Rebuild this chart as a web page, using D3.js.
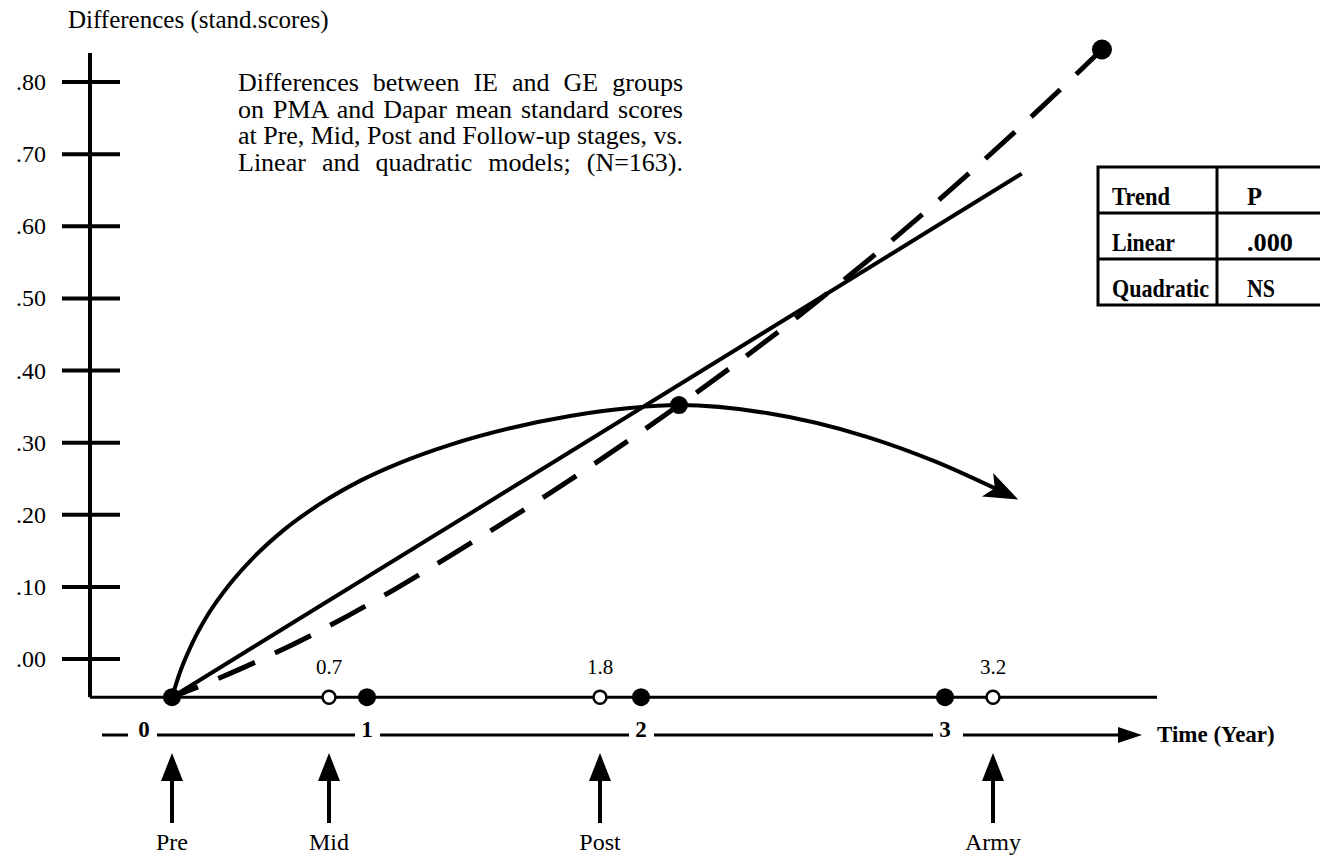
<!DOCTYPE html>
<html><head><meta charset="utf-8">
<script src="https://cdn.jsdelivr.net/npm/d3@7"></script>
<style>
html,body{margin:0;padding:0;background:#fff;}
svg{display:block;}
text{font-family:"Liberation Serif","DejaVu Serif",serif;fill:#000;}
</style></head><body>
<svg id="c" width="1320" height="857"></svg>
<script>
// ---------------- data ----------------
const yTickValues = [0, 0.1, 0.2, 0.3, 0.4, 0.5, 0.6, 0.7, 0.8];
const yTickLabels = [".00", ".10", ".20", ".30", ".40", ".50", ".60", ".70", ".80"];
const yAxisTitle = "Differences (stand.scores)";
const titleLines = [
  "Differences between IE and GE groups",
  "on PMA and Dapar mean standard scores",
  "at Pre, Mid, Post and Follow-up stages, vs.",
  "Linear and quadratic models; (N=163)."
];
const timeKnots = [0, 0.7, 1, 1.8, 2, 3, 3.2];
const yearTicks = [0, 1, 2, 3];
const yearTickLabels = ["0", "1", "2", "3"];
const xAxisTitle = "Time (Year)";
const measuredTimes = [0.7, 1.8, 3.2];
const measuredLabels = ["0.7", "1.8", "3.2"];
const stageNames = ["Pre", "Mid", "Post", "Army"];
const stageTimes = [0, 0.7, 1.8, 3.2];
const baselineValue = -0.053;
// linear model (solid straight line)
const linearT = [0, 3.32];
const linearV = [-0.053, 0.673];
// observed differences (dashed)
const dashedT = [0, 0.303, 0.615, 1.045, 1.285, 1.628, 2.125, 2.523, 2.753, 3.021, 3.354, 3.654];
const dashedV = [-0.053, -0.014, 0.032, 0.085, 0.143, 0.230, 0.352, 0.477, 0.555, 0.650, 0.750, 0.845];
// quadratic model (curved arrow)
const quadT = [0, 0.036, 0.089, 0.161, 0.250, 0.361, 0.495, 0.660, 0.945, 1.113, 1.285, 1.491, 1.697, 1.946, 2.125, 2.414, 2.743, 2.961, 3.275];
const quadV = [-0.053, -0.018, 0.021, 0.062, 0.101, 0.140, 0.178, 0.215, 0.247, 0.272, 0.297, 0.320, 0.337, 0.348, 0.352, 0.341, 0.308, 0.275, 0.226];
// highlighted points
const keyT = [0, 2.125, 3.654];
const keyV = [-0.053, 0.352, 0.845];
// table
const tableHeader = ["Trend", "P"];
const tableTrends = ["Linear", "Quadratic"];
const tableP = [".000", "NS"];

// ---------------- scales ----------------
const svg = d3.select("#c");
const x = d3.scaleLinear().domain(timeKnots).range([172, 329, 367, 600, 641, 945, 993]);
const y = d3.scaleLinear().domain([0, 0.8]).range([659, 82]);
const yBase = y(baselineValue);

const defs = svg.append("defs");
defs.append("marker").attr("id", "arrowCurve").attr("markerUnits", "userSpaceOnUse")
  .attr("markerWidth", 38).attr("markerHeight", 28).attr("refX", 26).attr("refY", 13)
  .attr("orient", "auto")
  .append("path").attr("d", "M0,0 L34,13 L0,26 L8,13 Z").attr("fill", "#000");
defs.append("marker").attr("id", "arrowAxis").attr("markerUnits", "userSpaceOnUse")
  .attr("markerWidth", 26).attr("markerHeight", 18).attr("refX", 18).attr("refY", 8)
  .attr("orient", "auto")
  .append("path").attr("d", "M0,0 L24,8 L0,16 Z").attr("fill", "#000");

// ---------------- y axis ----------------
svg.append("line").attr("x1", 90).attr("x2", 90).attr("y1", 53).attr("y2", yBase)
  .attr("stroke", "#000").attr("stroke-width", 4);
const yt = svg.append("g");
yTickValues.forEach((v, i) => {
  yt.append("line").attr("x1", 62).attr("x2", 120).attr("y1", y(v)).attr("y2", y(v))
    .attr("stroke", "#000").attr("stroke-width", 4);
  yt.append("text").attr("x", 46).attr("y", y(v) + 8).attr("text-anchor", "end")
    .style("font-size", "24px").text(yTickLabels[i]);
});
svg.append("text").attr("x", 68).attr("y", 28).style("font-size", "25px").text(yAxisTitle);

// ---------------- title (justified by word spacing) ----------------
titleLines.forEach((t, i) => {
  const tx = svg.append("text").attr("x", 238).attr("y", 91 + i * 26.5)
    .style("font-size", "26px").text(t);
  const natural = tx.node().getComputedTextLength();
  const spaces = (t.match(/ /g) || []).length;
  tx.style("word-spacing", ((445 - natural) / spaces) + "px");
});

// ---------------- baseline (time markers) ----------------
svg.append("line").attr("x1", 90).attr("x2", 1157).attr("y1", yBase).attr("y2", yBase)
  .attr("stroke", "#000").attr("stroke-width", 3);

// ---------------- curves ----------------
const line = d3.line().x(d => x(d[0])).y(d => y(d[1])).curve(d3.curveMonotoneX);

svg.append("path").datum(linearT.map((t, i) => [t, linearV[i]]))
  .attr("d", d3.line().x(d => x(d[0])).y(d => y(d[1])))
  .attr("fill", "none").attr("stroke", "#000").attr("stroke-width", 4);

svg.append("path").datum(dashedT.map((t, i) => [t, dashedV[i]]))
  .attr("d", line).attr("fill", "none").attr("stroke", "#000").attr("stroke-width", 5)
  .attr("stroke-dasharray", "40 22").attr("stroke-dashoffset", 12);

svg.append("path").datum(quadT.map((t, i) => [t, quadV[i]]))
  .attr("d", line).attr("fill", "none").attr("stroke", "#000").attr("stroke-width", 4)
  .attr("marker-end", "url(#arrowCurve)");

// key points
keyT.forEach((t, i) => {
  svg.append("circle").attr("cx", x(t)).attr("cy", y(keyV[i])).attr("r", i === 2 ? 10 : 9).attr("fill", "#000");
});

// year dots on baseline
yearTicks.forEach(t => {
  if (t === 0) return;
  svg.append("circle").attr("cx", x(t)).attr("cy", yBase).attr("r", 9).attr("fill", "#000");
});
measuredTimes.forEach((t, i) => {
  svg.append("circle").attr("cx", x(t)).attr("cy", yBase).attr("r", 6.5)
    .attr("fill", "#fff").attr("stroke", "#000").attr("stroke-width", 2.5);
  svg.append("text").attr("x", x(t)).attr("y", yBase - 23).attr("text-anchor", "middle")
    .style("font-size", "21px").text(measuredLabels[i]);
});

// ---------------- year axis row ----------------
const labelX = yearTicks.map(t => t === 0 ? x(t) - 28 : x(t));
const rowY = 735;
yearTicks.forEach((t, i) => {
  svg.append("text").attr("x", labelX[i]).attr("y", rowY + 2).attr("text-anchor", "middle")
    .style("font-size", "23px").style("font-weight", "bold").text(yearTickLabels[i]);
});
const segs = [[102, labelX[0] - 16]];
for (let i = 0; i < labelX.length - 1; i++) segs.push([labelX[i] + 13, labelX[i + 1] - 12]);
segs.forEach(s => svg.append("line").attr("x1", s[0]).attr("x2", s[1]).attr("y1", rowY).attr("y2", rowY)
  .attr("stroke", "#000").attr("stroke-width", 3));
svg.append("line").attr("x1", labelX[3] + 18).attr("x2", 1136).attr("y1", rowY).attr("y2", rowY)
  .attr("stroke", "#000").attr("stroke-width", 3).attr("marker-end", "url(#arrowAxis)");
svg.append("text").attr("x", 1157).attr("y", rowY + 7).style("font-size", "23px")
  .style("font-weight", "bold").text(xAxisTitle);

// ---------------- stage arrows ----------------
stageTimes.forEach((t, i) => {
  const cx = x(t);
  svg.append("line").attr("x1", cx).attr("x2", cx).attr("y1", 823).attr("y2", 775)
    .attr("stroke", "#000").attr("stroke-width", 4);
  svg.append("path").attr("d", `M${cx},753 L${cx + 11},781 L${cx - 11},781 Z`).attr("fill", "#000");
  svg.append("text").attr("x", cx).attr("y", 850).attr("text-anchor", "middle")
    .style("font-size", "24px").text(stageNames[i]);
});

// ---------------- table ----------------
const tb = svg.append("g");
const rowsY = [167, 213, 259, 305];
tb.append("rect").attr("x", 1098).attr("y", rowsY[0]).attr("width", 240).attr("height", rowsY[3] - rowsY[0])
  .attr("fill", "none").attr("stroke", "#000").attr("stroke-width", 3);
[rowsY[1], rowsY[2]].forEach(yy => tb.append("line").attr("x1", 1098).attr("x2", 1330)
  .attr("y1", yy).attr("y2", yy).attr("stroke", "#000").attr("stroke-width", 3));
tb.append("line").attr("x1", 1217).attr("x2", 1217).attr("y1", rowsY[0]).attr("y2", rowsY[3])
  .attr("stroke", "#000").attr("stroke-width", 3);
const col1 = [tableHeader[0]].concat(tableTrends);
const col2 = [tableHeader[1]].concat(tableP);
const w1 = [58, 63, 97], w2 = [15, 46, 28];
col1.forEach((t, i) => tb.append("text").attr("x", 1112).attr("y", rowsY[i + 1] - 8)
  .attr("textLength", w1[i]).attr("lengthAdjust", "spacingAndGlyphs")
  .style("font-size", "25px").style("font-weight", "bold").text(t));
col2.forEach((t, i) => tb.append("text").attr("x", 1247).attr("y", rowsY[i + 1] - 8)
  .attr("textLength", w2[i]).attr("lengthAdjust", "spacingAndGlyphs")
  .style("font-size", "25px").style("font-weight", "bold").text(t));
</script>
</body></html>
